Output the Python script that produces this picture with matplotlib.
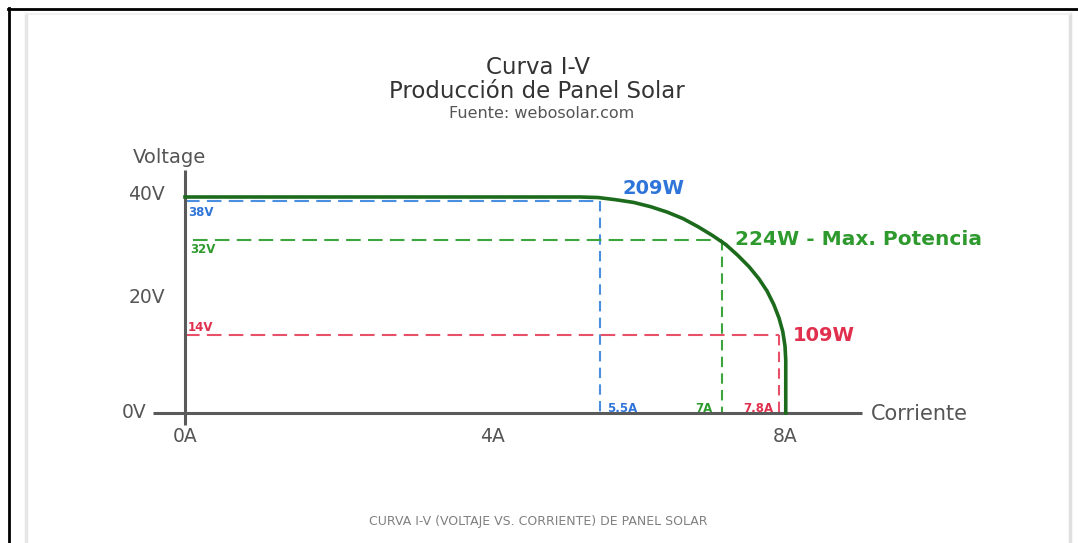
"""Curva I-V de panel solar (voltaje vs. corriente)."""

import matplotlib
matplotlib.use('Agg')
import matplotlib.pyplot as plt
from matplotlib.lines import Line2D

plt.rcParams['font.family'] = ['DejaVu Sans']

W, H = 1078, 543

# Curva I-V
current = [0, 5.27, 5.51, 5.74, 5.98, 6.21, 6.43, 6.64, 6.84, 7.03, 7.21, 7.37,
           7.52, 7.65, 7.76, 7.85, 7.92, 7.97, 8.0, 8.01, 8.01]
voltage = [40, 40, 39.9, 39.5, 39.0, 38.2, 37.2, 36.0, 34.5, 32.9, 31.2, 29.2,
           27.1, 24.9, 22.6, 20.1, 17.6, 15.1, 12.4, 9.8, 0]

# Puntos de operacion
op_current = [5.53, 7.16, 7.92]
op_voltage = [39.2, 32.0, 14.4]
op_amp_labels = ['5.5A', '7A', '7.8A']
op_volt_labels = ['38V', '32V', '14V']
op_power_labels = ['209W', '224W - Max. Potencia', '109W']
op_colors = ['#4a8fe0', '#3da53d', '#e8506a']
op_text_colors = ['#2f74d8', '#2e9a2e', '#e0304e']

y_ticks = [0, 20, 40]
y_tick_labels = ['0V', '20V', '40V']
x_ticks = [0, 4, 8]
x_tick_labels = ['0A', '4A', '8A']

# mapeo a pixeles: x = 185 + 75*I, y = 413 - 5.4*V
X0, SX = 185.0, 75.0
Y0, SY = 413.0, 5.4


def fx(px):
    return px / W


def fy(py):
    return 1 - py / H


fig = plt.figure(figsize=(W / 100, H / 100), dpi=100)
fig.patch.set_facecolor('white')
ax = fig.add_axes([0, 0, 1, 1])
ax.set_xlim(-X0 / SX, (W - X0) / SX)
ax.set_ylim((Y0 - H) / SY, Y0 / SY)
ax.axis('off')

# Marco
fig.add_artist(Line2D([fx(8), 1], [fy(8.5), fy(8.5)], color='black', lw=2))
fig.add_artist(Line2D([fx(8.5), fx(8.5)], [fy(8), 0], color='black', lw=2))
fig.add_artist(Line2D([fx(26), fx(26)], [fy(14), 0], color='#e6e6e6', lw=2.5))
fig.add_artist(Line2D([fx(1070), fx(1070)], [fy(14), 0], color='#e0e0e0', lw=2.5))
fig.add_artist(Line2D([fx(26), fx(1070)], [fy(14), fy(14)], color='#f0f0f0', lw=1.5))

# Lineas punteadas de los puntos de operacion
for i in range(len(op_current)):
    c = op_colors[i]
    x_start = 0.1 if i == 1 else 0
    ax.plot([x_start, op_current[i]], [op_voltage[i], op_voltage[i]], color=c,
            lw=1.5, dashes=(7, 3.5), zorder=2)
    ax.plot([op_current[i], op_current[i]], [op_voltage[i], 0], color=c,
            lw=1.5, dashes=(5, 3), zorder=2)

# Ejes
axis_color = '#5a5a5a'
ax.plot([-0.43, 9.03], [0, 0], color=axis_color, lw=2.2, solid_capstyle='butt', zorder=3)
ax.plot([0, 0], [-2.2, 45], color=axis_color, lw=2.2, solid_capstyle='butt', zorder=3)

# Curva
ax.plot(current, voltage, color='#1c6b1c', lw=2.6, zorder=4, solid_joinstyle='round')

# Etiquetas de ejes
tick_x = [-0.51, -0.27, -0.27]
tick_dy = [0, 1.4, 0.4]
for i, lab in enumerate(y_tick_labels):
    ax.text(tick_x[i], y_ticks[i] + tick_dy[i], lab, ha='right', va='center',
            fontsize=13.5, color='#555555')
tick_dx = [0, 0.1, 0]
for i, lab in enumerate(x_tick_labels):
    ax.text(x_ticks[i] + tick_dx[i], -4.4, lab, ha='center', va='center',
            fontsize=13.5, color='#555555')
ax.text(-0.69, 47.3, 'Voltage', ha='left', va='center', fontsize=14, color='#555555')
ax.text(9.15, -0.2, 'Corriente', ha='left', va='center', fontsize=15, color='#555555')

# Etiquetas de puntos de operacion
v_label_pos = [(0.04, 37.2), (0.07, 30.2), (0.03, 15.9)]
for i in range(len(op_current)):
    ax.text(v_label_pos[i][0], v_label_pos[i][1], op_volt_labels[i], ha='left', va='center',
            fontsize=8.5, fontweight='bold', color=op_text_colors[i])
a_label_pos = [(5.63, 'left'), (7.03, 'right'), (7.84, 'right')]
for i in range(len(op_current)):
    ax.text(a_label_pos[i][0], 0.9, op_amp_labels[i], ha=a_label_pos[i][1], va='center',
            fontsize=8.5, fontweight='bold', color=op_text_colors[i])
p_label_pos = [(5.83, 41.6), (7.33, 32.1), (8.1, 14.4)]
p_sizes = [14, 14.5, 14]
for i in range(len(op_current)):
    ax.text(p_label_pos[i][0], p_label_pos[i][1], op_power_labels[i], ha='left', va='center',
            fontsize=p_sizes[i], fontweight='bold', color=op_text_colors[i])

# Titulos
fig.text(fx(538), fy(68), 'Curva I-V', ha='center', va='center', fontsize=16.5, color='#333333')
fig.text(fx(537), fy(91), 'Producción de Panel Solar', ha='center', va='center', fontsize=16.5,
         color='#333333')
fig.text(fx(542), fy(114), 'Fuente: webosolar.com', ha='center', va='center', fontsize=11.5,
         color='#555555')
fig.text(fx(538), fy(521), 'CURVA I-V (VOLTAJE VS. CORRIENTE) DE PANEL SOLAR', ha='center',
         va='center', fontsize=9, color='#808080')

fig.savefig('out.png', dpi=100, facecolor='white')
